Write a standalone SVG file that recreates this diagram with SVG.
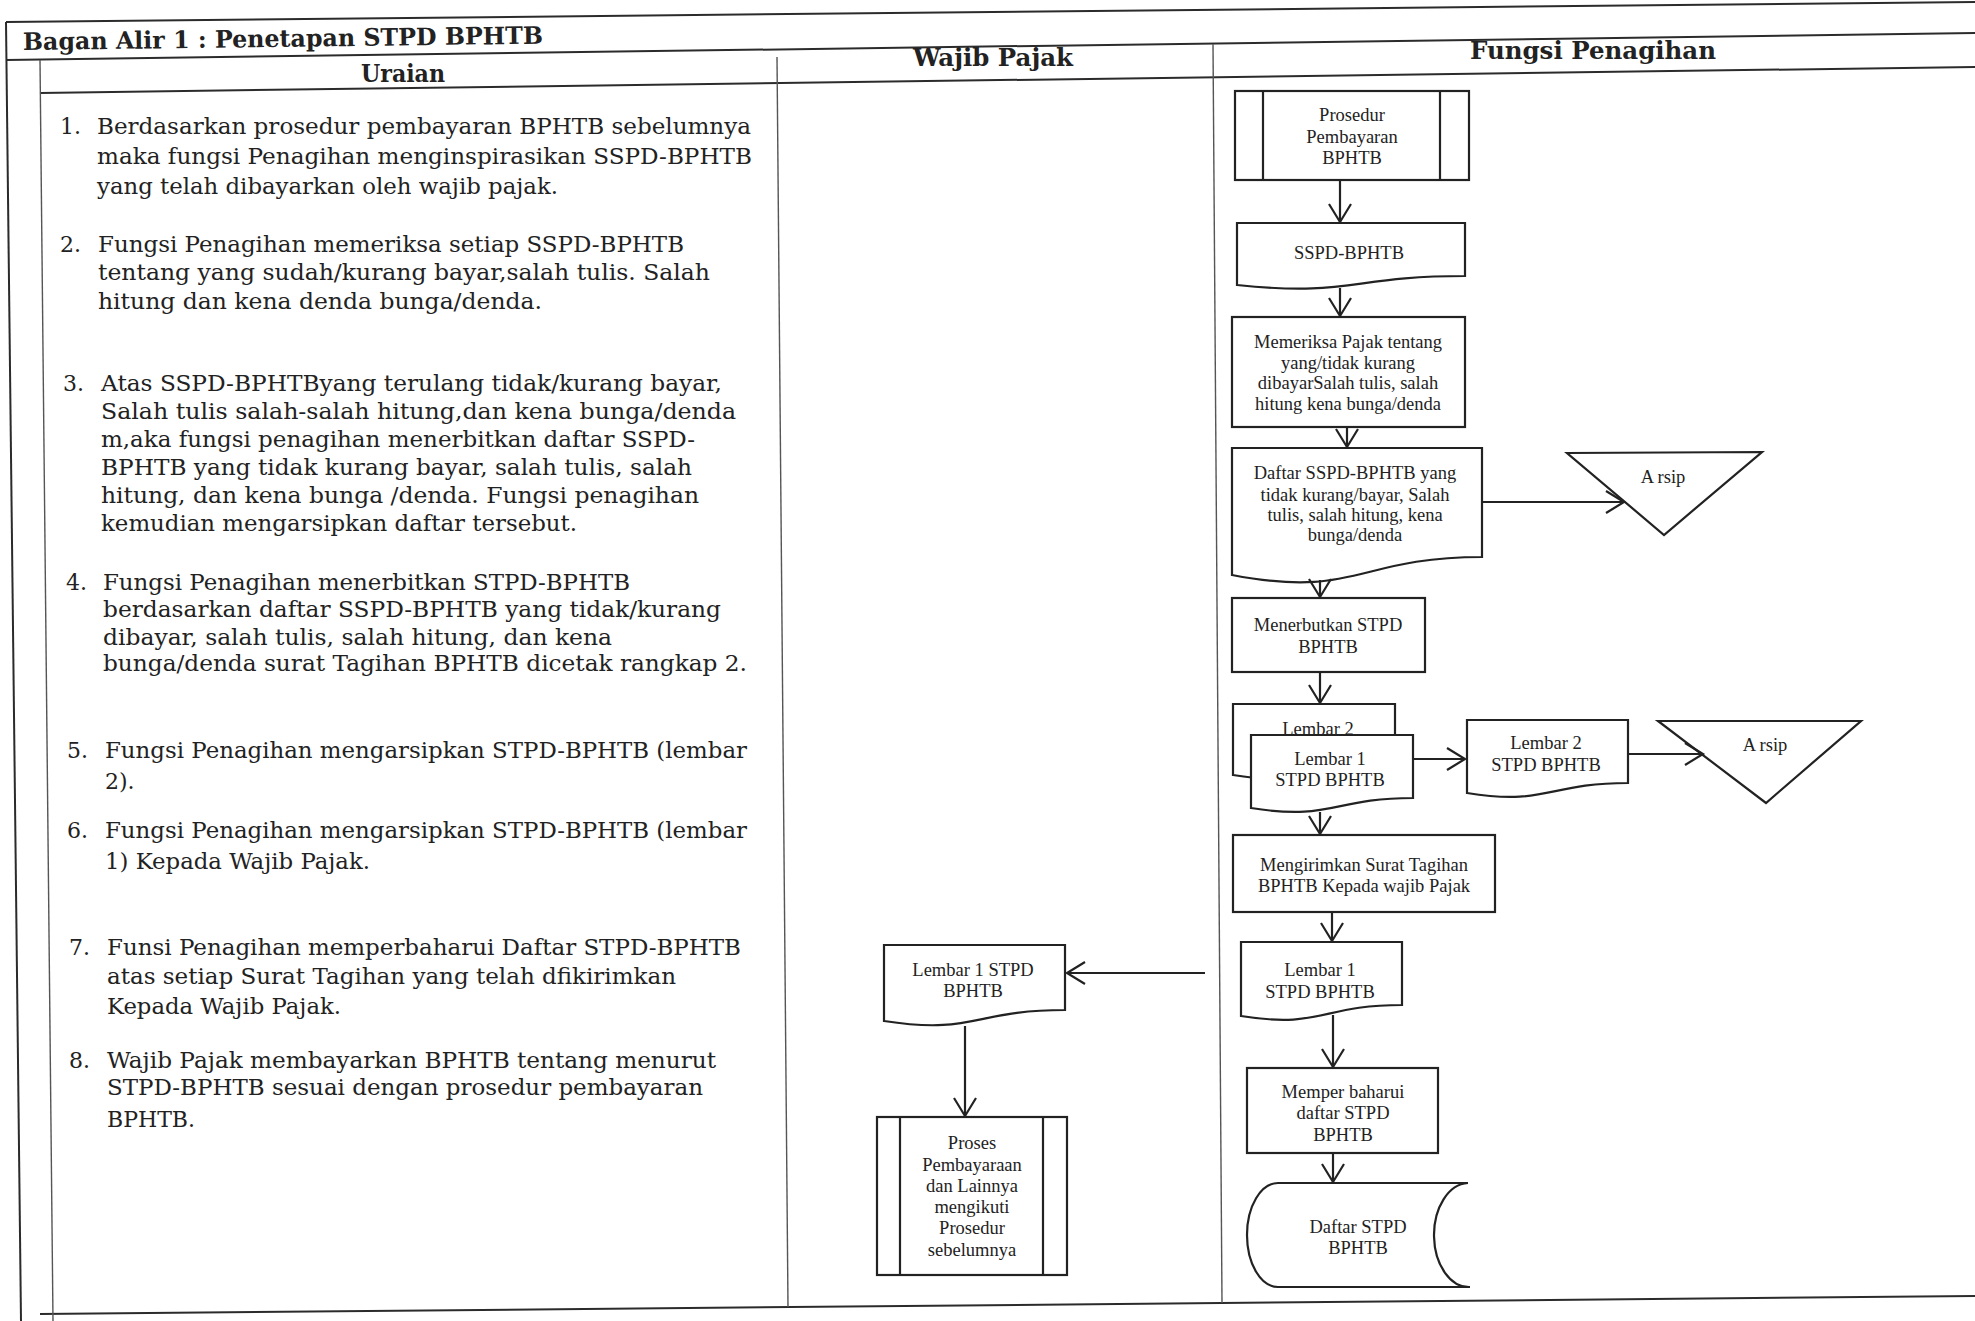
<svg xmlns="http://www.w3.org/2000/svg" width="1975" height="1321" viewBox="0 0 1975 1321">
<defs>
<marker id="ah" markerUnits="userSpaceOnUse" markerWidth="26" markerHeight="28" refX="20" refY="12" orient="auto" overflow="visible">
<path d="M2,1 L20,12 L2,23" fill="none" stroke="#222" stroke-width="2.2"/>
</marker>
</defs>
<style>
.frame{stroke:#2b2b2b;stroke-width:2;fill:none}
.thin{stroke:#555;stroke-width:1.4;fill:none}
.shape{fill:#fff;stroke:#222;stroke-width:2.2}
.ln{stroke:#222;stroke-width:2.2;fill:none}
.conn{stroke:#222;stroke-width:2.2;fill:none;marker-end:url(#ah)}
.t{font-family:"Liberation Serif","Times New Roman",serif;font-size:18.5px;fill:#222;text-anchor:middle}
.u{font-family:"DejaVu Serif",serif;font-size:22px;fill:#222}
.h{font-family:"DejaVu Serif",serif;font-size:24px;font-weight:bold;fill:#222}
</style>
<rect width="1975" height="1321" fill="#fff"/>

<g id="frame">
<path class="frame" d="M6,22 L1975,2"/>
<path class="frame" d="M6,60 L1975,33"/>
<path class="frame" d="M40,93 L1975,67"/>
<path class="frame" d="M40,1314 L1975,1296"/>
<path class="frame" d="M6,22 L21,1321"/>
<path class="thin" d="M40,60 L53,1321"/>
<path class="thin" d="M777,57 L788,1307"/>
<path class="thin" d="M1213,44 L1222,1303"/>
</g>

<g id="headers">
<text class="h" x="23" y="50" textLength="520" lengthAdjust="spacingAndGlyphs" transform="rotate(-0.7 23 50)">Bagan Alir 1 : Penetapan STPD BPHTB</text>
<text class="h" x="361" y="82" textLength="84" lengthAdjust="spacingAndGlyphs">Uraian</text>
<text class="h" x="913" y="66" textLength="160" lengthAdjust="spacingAndGlyphs">Wajib Pajak</text>
<text class="h" x="1470" y="59" textLength="246" lengthAdjust="spacingAndGlyphs">Fungsi Penagihan</text>
</g>

<g id="uraian">
<text class="u" x="60" y="134">1.</text>
<text class="u" x="97" y="134" textLength="654" lengthAdjust="spacingAndGlyphs">Berdasarkan prosedur pembayaran BPHTB sebelumnya</text>
<text class="u" x="97" y="164" textLength="655" lengthAdjust="spacingAndGlyphs">maka fungsi Penagihan menginspirasikan SSPD-BPHTB</text>
<text class="u" x="97" y="194" textLength="461" lengthAdjust="spacingAndGlyphs">yang telah dibayarkan oleh wajib pajak.</text>

<text class="u" x="60" y="252">2.</text>
<text class="u" x="98" y="252" textLength="586" lengthAdjust="spacingAndGlyphs">Fungsi Penagihan memeriksa setiap SSPD-BPHTB</text>
<text class="u" x="98" y="280" textLength="612" lengthAdjust="spacingAndGlyphs">tentang yang sudah/kurang bayar,salah tulis. Salah</text>
<text class="u" x="98" y="309" textLength="444" lengthAdjust="spacingAndGlyphs">hitung dan kena denda bunga/denda.</text>

<text class="u" x="63" y="391">3.</text>
<text class="u" x="101" y="391" textLength="621" lengthAdjust="spacingAndGlyphs">Atas SSPD-BPHTByang terulang tidak/kurang bayar,</text>
<text class="u" x="101" y="419" textLength="635" lengthAdjust="spacingAndGlyphs">Salah tulis salah-salah hitung,dan kena bunga/denda</text>
<text class="u" x="101" y="447" textLength="594" lengthAdjust="spacingAndGlyphs">m,aka fungsi penagihan menerbitkan daftar SSPD-</text>
<text class="u" x="101" y="475" textLength="591" lengthAdjust="spacingAndGlyphs">BPHTB yang tidak kurang bayar, salah tulis, salah</text>
<text class="u" x="101" y="503" textLength="598" lengthAdjust="spacingAndGlyphs">hitung, dan kena bunga /denda. Fungsi penagihan</text>
<text class="u" x="101" y="531" textLength="476" lengthAdjust="spacingAndGlyphs">kemudian mengarsipkan daftar tersebut.</text>

<text class="u" x="66" y="590">4.</text>
<text class="u" x="103" y="590" textLength="527" lengthAdjust="spacingAndGlyphs">Fungsi Penagihan menerbitkan STPD-BPHTB</text>
<text class="u" x="103" y="617" textLength="618" lengthAdjust="spacingAndGlyphs">berdasarkan daftar SSPD-BPHTB yang tidak/kurang</text>
<text class="u" x="103" y="645" textLength="509" lengthAdjust="spacingAndGlyphs">dibayar, salah tulis, salah hitung, dan kena</text>
<text class="u" x="103" y="671" textLength="644" lengthAdjust="spacingAndGlyphs">bunga/denda surat Tagihan BPHTB dicetak rangkap 2.</text>

<text class="u" x="67" y="758">5.</text>
<text class="u" x="105" y="758" textLength="642" lengthAdjust="spacingAndGlyphs">Fungsi Penagihan mengarsipkan STPD-BPHTB (lembar</text>
<text class="u" x="105" y="789">2).</text>

<text class="u" x="67" y="838">6.</text>
<text class="u" x="105" y="838" textLength="642" lengthAdjust="spacingAndGlyphs">Fungsi Penagihan mengarsipkan STPD-BPHTB (lembar</text>
<text class="u" x="105" y="869" textLength="265" lengthAdjust="spacingAndGlyphs">1) Kepada Wajib Pajak.</text>

<text class="u" x="69" y="955">7.</text>
<text class="u" x="107" y="955" textLength="634" lengthAdjust="spacingAndGlyphs">Funsi Penagihan memperbaharui Daftar STPD-BPHTB</text>
<text class="u" x="107" y="984" textLength="569" lengthAdjust="spacingAndGlyphs">atas setiap Surat Tagihan yang telah dfikirimkan</text>
<text class="u" x="107" y="1014" textLength="234" lengthAdjust="spacingAndGlyphs">Kepada Wajib Pajak.</text>

<text class="u" x="69" y="1068">8.</text>
<text class="u" x="107" y="1068" textLength="609" lengthAdjust="spacingAndGlyphs">Wajib Pajak membayarkan BPHTB tentang menurut</text>
<text class="u" x="107" y="1095" textLength="596" lengthAdjust="spacingAndGlyphs">STPD-BPHTB sesuai dengan prosedur pembayaran</text>
<text class="u" x="107" y="1127" textLength="88" lengthAdjust="spacingAndGlyphs">BPHTB.</text>
</g>

<g id="n-prosedur">
<rect class="shape" x="1235" y="91" width="234" height="89" stroke-width="2.6"/>
<path class="ln" d="M1263,91 V180 M1440,91 V180"/>
<text class="t" x="1352" y="121">Prosedur</text>
<text class="t" x="1352" y="143">Pembayaran</text>
<text class="t" x="1352" y="164">BPHTB</text>
</g>

<g id="n-sspd">
<path class="shape" d="M1237,223 H1465 V276 C1351,276 1351,297 1237,285 Z"/>
<text class="t" x="1349" y="259">SSPD-BPHTB</text>
</g>

<g id="n-memeriksa">
<rect class="shape" x="1232" y="317" width="233" height="110"/>
<text class="t" x="1348" y="348">Memeriksa Pajak tentang</text>
<text class="t" x="1348" y="369">yang/tidak kurang</text>
<text class="t" x="1348" y="389">dibayarSalah tulis, salah</text>
<text class="t" x="1348" y="410">hitung kena bunga/denda</text>
</g>

<g id="n-daftar-sspd">
<path class="shape" d="M1232,448 H1482 V557 C1357,557 1357,599 1232,575 Z"/>
<text class="t" x="1355" y="479">Daftar SSPD-BPHTB yang</text>
<text class="t" x="1355" y="501">tidak kurang/bayar, Salah</text>
<text class="t" x="1355" y="521">tulis, salah hitung, kena</text>
<text class="t" x="1355" y="541">bunga/denda</text>
</g>

<g id="n-arsip1">
<path class="shape" d="M1567,453 L1762,452 L1664,535 Z"/>
<text class="t" x="1663" y="483">A rsip</text>
</g>

<g id="n-menerbitkan">
<rect class="shape" x="1232" y="598" width="193" height="74"/>
<text class="t" x="1328" y="631">Menerbutkan STPD</text>
<text class="t" x="1328" y="653">BPHTB</text>
</g>

<g id="n-lembar2-back">
<path class="shape" d="M1233,704 H1395 V765 C1314,765 1314,788 1233,775 Z"/>
<text class="t" x="1318" y="735">Lembar 2</text>
</g>

<g id="n-lembar1-front">
<path class="shape" d="M1251,735 H1413 V798 C1332,798 1332,821 1251,808 Z"/>
<text class="t" x="1330" y="765">Lembar 1</text>
<text class="t" x="1330" y="786">STPD BPHTB</text>
</g>

<g id="n-lembar2-stpd">
<path class="shape" d="M1467,720 H1628 V783 C1547,783 1547,806 1467,793 Z"/>
<text class="t" x="1546" y="749">Lembar 2</text>
<text class="t" x="1546" y="771">STPD BPHTB</text>
</g>

<g id="n-arsip2">
<path class="shape" d="M1658,721 L1861,721 L1766,803 Z"/>
<text class="t" x="1765" y="751">A rsip</text>
</g>

<g id="n-mengirimkan">
<rect class="shape" x="1233" y="835" width="262" height="77"/>
<text class="t" x="1364" y="871">Mengirimkan Surat Tagihan</text>
<text class="t" x="1364" y="892">BPHTB Kepada wajib Pajak</text>
</g>

<g id="n-lembar1-fp">
<path class="shape" d="M1241,942 H1402 V1005 C1321,1005 1321,1029 1241,1016 Z"/>
<text class="t" x="1320" y="976">Lembar 1</text>
<text class="t" x="1320" y="998">STPD BPHTB</text>
</g>

<g id="n-memperbaharui">
<rect class="shape" x="1247" y="1068" width="191" height="85"/>
<text class="t" x="1343" y="1098">Memper baharui</text>
<text class="t" x="1343" y="1119">daftar STPD</text>
<text class="t" x="1343" y="1141">BPHTB</text>
</g>

<g id="n-daftar-stpd">
<path class="shape" d="M1278,1183 L1468,1183 A35 52 0 0 0 1470,1287 L1278,1287 A31 52 0 0 1 1278,1183 Z"/>
<text class="t" x="1358" y="1233">Daftar STPD</text>
<text class="t" x="1358" y="1254">BPHTB</text>
</g>

<g id="n-lembar1-wp">
<path class="shape" d="M884,945 H1065 V1010 C974,1010 974,1035 884,1021 Z"/>
<text class="t" x="973" y="976">Lembar 1 STPD</text>
<text class="t" x="973" y="997">BPHTB</text>
</g>

<g id="n-proses">
<rect class="shape" x="877" y="1117" width="190" height="158"/>
<path class="ln" d="M900,1117 V1275 M1043,1117 V1275"/>
<text class="t" x="972" y="1149">Proses</text>
<text class="t" x="972" y="1171">Pembayaraan</text>
<text class="t" x="972" y="1192">dan Lainnya</text>
<text class="t" x="972" y="1213">mengikuti</text>
<text class="t" x="972" y="1234">Prosedur</text>
<text class="t" x="972" y="1256">sebelumnya</text>
</g>

<g id="connectors">
<path class="conn" d="M1340,180 V222"/>
<path class="conn" d="M1340,288 V316"/>
<path class="conn" d="M1347,427 V447"/>
<path class="conn" d="M1482,502 H1624"/>
<path class="conn" d="M1320,580 V597"/>
<path class="conn" d="M1320,672 V703"/>
<path class="conn" d="M1413,759 H1465"/>
<path class="conn" d="M1628,754 H1703"/>
<path class="conn" d="M1320,812 V834"/>
<path class="conn" d="M1332,912 V941"/>
<path class="conn" d="M1205,973 H1067"/>
<path class="conn" d="M1333,1015 V1067"/>
<path class="conn" d="M1333,1153 V1182"/>
<path class="conn" d="M965,1026 V1116"/>
</g>
</svg>
